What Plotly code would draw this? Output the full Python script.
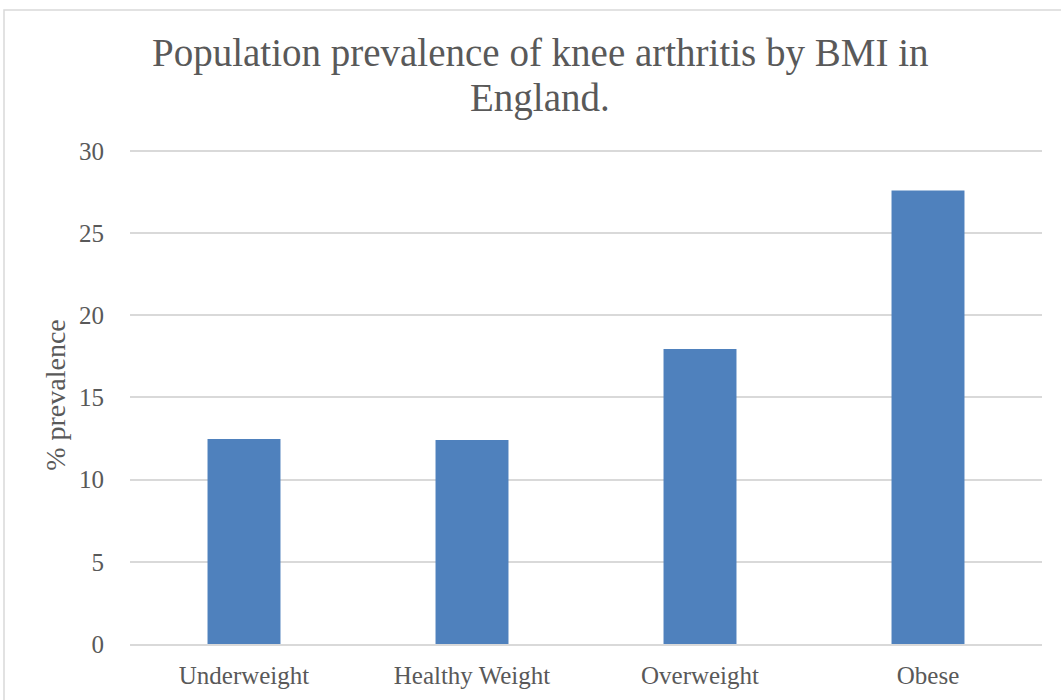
import plotly.graph_objects as go

categories = ["Underweight", "Healthy Weight", "Overweight", "Obese"]
prevalence = [12.47, 12.41, 17.95, 27.6]
y_ticks = [0, 5, 10, 15, 20, 25, 30]
title_lines = ["Population prevalence of knee arthritis by BMI in", "England."]

W, H = 1061, 700
L, R, T, B = 130, 19, 146, 56
pw, ph = W - L - R, H - T - B

def px_x(p):
    return (p - L) / pw

def px_y(p):
    return (H - B - p) / ph

font_family = "Liberation Serif, DejaVu Serif, serif"
text_color = "#595959"

fig = go.Figure()
fig.add_trace(go.Bar(
    x=categories, y=prevalence,
    marker=dict(color="#4F81BD", line=dict(width=0)),
    width=0.32,
))

title_centers = [53.5, 98.5]
annotations = [
    dict(text=t, x=px_x(540), y=px_y(cy), xref="paper", yref="paper",
         xanchor="center", yanchor="middle", showarrow=False,
         font=dict(size=39, color=text_color, family=font_family))
    for t, cy in zip(title_lines, title_centers)
]

fig.update_layout(
    width=W, height=H,
    margin=dict(l=L, r=R, t=T, b=B),
    paper_bgcolor="white", plot_bgcolor="white",
    showlegend=False,
    font=dict(family=font_family, color=text_color),
    annotations=annotations,
    xaxis=dict(
        showline=True, linecolor="#d9d9d9", linewidth=1.5,
        ticks="outside", ticklen=8, tickcolor="rgba(0,0,0,0)",
        tickfont=dict(size=25, color=text_color),
        showgrid=False,
    ),
    yaxis=dict(
        range=[0, 30.3], tickvals=y_ticks,
        showgrid=True, gridcolor="#d9d9d9", gridwidth=1.5,
        zeroline=False, showline=False,
        ticks="outside", ticklen=20, tickcolor="rgba(0,0,0,0)",
        tickfont=dict(size=25, color=text_color),
        title=dict(text="% prevalence", font=dict(size=28, color=text_color), standoff=5),
    ),
    shapes=[dict(
        type="rect", xref="paper", yref="paper",
        x0=px_x(4), x1=px_x(1070), y0=px_y(710), y1=px_y(10),
        line=dict(color="#d9d9d9", width=1.5), fillcolor="rgba(0,0,0,0)",
        layer="below",
    )],
)

fig.write_html(
    "out.html",
    config={"displayModeBar": False},
    post_script="document.body.style.margin='0px';document.body.style.overflow='hidden';",
)
